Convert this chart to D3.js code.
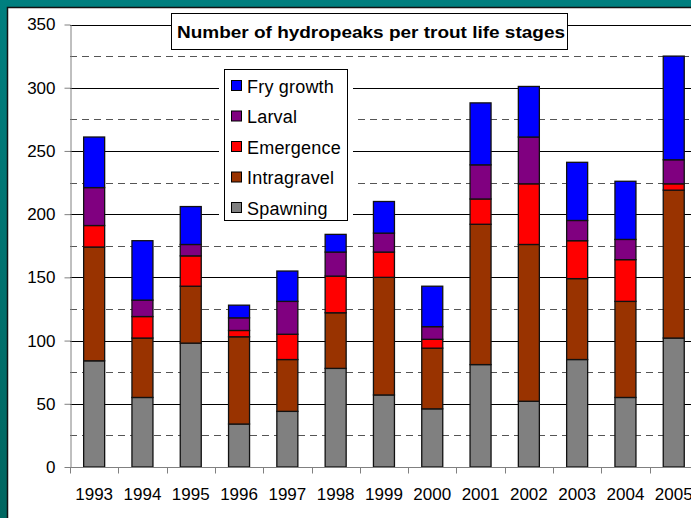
<!DOCTYPE html>
<html>
<head>
<meta charset="utf-8">
<script src="https://cdn.jsdelivr.net/npm/d3@7"></script>
<style>
  html, body { margin: 0; padding: 0; background: #007b7b; }
  svg { display: block; font-family: "Liberation Sans", Arial, sans-serif; }
</style>
</head>
<body>
<div id="chart"></div>
<script>
// chart data
const years = ["1993", "1994", "1995", "1996", "1997", "1998", "1999", "2000", "2001", "2002", "2003", "2004", "2005"];
const stages = ["Spawning", "Intragravel", "Emergence", "Larval", "Fry growth"];
const spawning    = [84, 55, 98, 34, 44, 78, 57, 46, 81, 52, 85, 55, 102];
const intragravel = [90, 47, 45, 69, 41, 44, 93, 48, 111, 124, 64, 76, 117];
const emergence   = [17, 17, 24, 5, 20, 29, 20, 7, 20, 48, 30, 33, 5];
const larval      = [30, 13, 9, 10, 26, 19, 15, 10, 27, 37, 16, 16, 19];
const fryGrowth   = [40, 47, 30, 10, 24, 14, 25, 32, 49, 40, 46, 46, 82];
const yTicks = [0, 50, 100, 150, 200, 250, 300, 350];
const dashTicks = [25, 75, 125, 175, 225, 275, 325];
const colors = {
    "Spawning": "#808080",
    "Intragravel": "#993300",
    "Emergence": "#ff0000",
    "Larval": "#800080",
    "Fry growth": "#0000ff"
};

const width = 691;
const height = 518;

// build rows for the stack
const seriesByStage = { "Spawning": spawning, "Intragravel": intragravel, "Emergence": emergence, "Larval": larval, "Fry growth": fryGrowth };
const rows = years.map((y, i) => {
    const r = { year: y };
    stages.forEach(s => r[s] = seriesByStage[s][i]);
    return r;
});
const stacked = d3.stack().keys(stages)(rows);

const svg = d3.select("#chart")
    .append("svg")
    .attr("width", width)
    .attr("height", height);

// teal frame with slight darkening towards the bottom
const defs = svg.append("defs");
const grad = defs.append("linearGradient").attr("id", "frame").attr("x1", 0).attr("y1", 0).attr("x2", 0).attr("y2", 1);
grad.append("stop").attr("offset", "0%").attr("stop-color", "#007f7f");
grad.append("stop").attr("offset", "100%").attr("stop-color", "#006660");
svg.append("rect").attr("width", width).attr("height", height).attr("fill", "url(#frame)");

// white chart panel
svg.append("rect")
    .attr("x", 7.5).attr("y", 7.5)
    .attr("width", width).attr("height", height)
    .attr("fill", "#fff")
    .attr("stroke", "#111")
    .attr("stroke-width", 1.5);

const plotLeft = 70;
const step = 48.3;
const x = d3.scaleBand()
    .domain(years)
    .range([plotLeft, plotLeft + step * years.length])
    .paddingInner(0.565)
    .paddingOuter(0.2825);

const y = d3.scaleLinear()
    .domain([0, 350])
    .range([467, 24.5]);

// gridlines
svg.append("g")
    .selectAll("line")
    .data(dashTicks)
    .enter().append("line")
    .attr("x1", plotLeft).attr("x2", width)
    .attr("y1", d => Math.round(y(d)) + 0.5)
    .attr("y2", d => Math.round(y(d)) + 0.5)
    .attr("stroke", "#555")
    .attr("stroke-dasharray", "7,5");

svg.append("g")
    .selectAll("line")
    .data(yTicks.filter(d => d > 0))
    .enter().append("line")
    .attr("x1", plotLeft).attr("x2", width)
    .attr("y1", d => Math.round(y(d)) + 0.5)
    .attr("y2", d => Math.round(y(d)) + 0.5)
    .attr("stroke", "#000")
    .attr("stroke-width", 1);

// bars
svg.append("g")
    .selectAll("g")
    .data(stacked)
    .enter().append("g")
    .attr("fill", d => colors[d.key])
    .selectAll("rect")
    .data(d => d)
    .enter().append("rect")
    .attr("x", d => x(d.data.year))
    .attr("y", d => y(d[1]))
    .attr("width", x.bandwidth())
    .attr("height", d => y(d[0]) - y(d[1]))
    .attr("stroke", "#111")
    .attr("stroke-width", 1.3);

// y axis
const yAxis = svg.append("g")
    .attr("transform", `translate(${plotLeft + 0.5},0)`)
    .call(d3.axisLeft(y).tickValues(yTicks).tickSize(6).tickPadding(9).tickSizeOuter(0));
yAxis.select(".domain").attr("stroke", "#808080");
yAxis.selectAll(".tick line").attr("stroke", "#808080");
yAxis.selectAll("text").attr("font-size", 17).attr("fill", "#000").attr("font-family", "Liberation Sans, Arial, sans-serif");

// x axis with ticks between categories
const xAxisG = svg.append("g").attr("transform", `translate(0,${Math.round(y(0)) + 0.5})`);
xAxisG.append("line")
    .attr("x1", plotLeft).attr("x2", width)
    .attr("stroke", "#808080");
xAxisG.selectAll("line.tk")
    .data(d3.range(years.length + 1))
    .enter().append("line")
    .attr("class", "tk")
    .attr("x1", i => Math.round(plotLeft + i * step) + 0.5)
    .attr("x2", i => Math.round(plotLeft + i * step) + 0.5)
    .attr("y1", 0).attr("y2", 6)
    .attr("stroke", "#808080");
xAxisG.selectAll("text")
    .data(years)
    .enter().append("text")
    .attr("x", d => x(d) + x.bandwidth() / 2)
    .attr("y", 32)
    .attr("text-anchor", "middle")
    .attr("font-size", 17)
    .text(d => d);

// title box
svg.append("rect")
    .attr("x", 171.5).attr("y", 13.5)
    .attr("width", 396).attr("height", 36)
    .attr("fill", "#fff")
    .attr("stroke", "#000");
svg.append("text")
    .attr("x", 177).attr("y", 37.5)
    .attr("font-size", 17)
    .attr("font-weight", "bold")
    .attr("textLength", 388)
    .attr("lengthAdjust", "spacingAndGlyphs")
    .text("Number of hydropeaks per trout life stages");

// legend
const legendItems = stages.slice().reverse();
const legend = svg.append("g");
legend.append("rect")
    .attr("x", 219).attr("y", 66)
    .attr("width", 134).attr("height", 158)
    .attr("fill", "#fff");
legend.append("rect")
    .attr("x", 224.5).attr("y", 69.5)
    .attr("width", 123).attr("height", 151)
    .attr("fill", "#fff")
    .attr("stroke", "#000");
const li = legend.selectAll("g.item")
    .data(legendItems)
    .enter().append("g")
    .attr("class", "item")
    .attr("transform", (d, i) => `translate(0,${86 + i * 30.5})`);
li.append("rect")
    .attr("x", 231.5).attr("y", -5.5)
    .attr("width", 10).attr("height", 10)
    .attr("fill", d => colors[d])
    .attr("stroke", "#000");
li.append("text")
    .attr("x", 247)
    .attr("y", 6.5)
    .attr("font-size", 18)
    .attr("letter-spacing", 0.2)
    .text(d => d);
</script>
</body>
</html>
